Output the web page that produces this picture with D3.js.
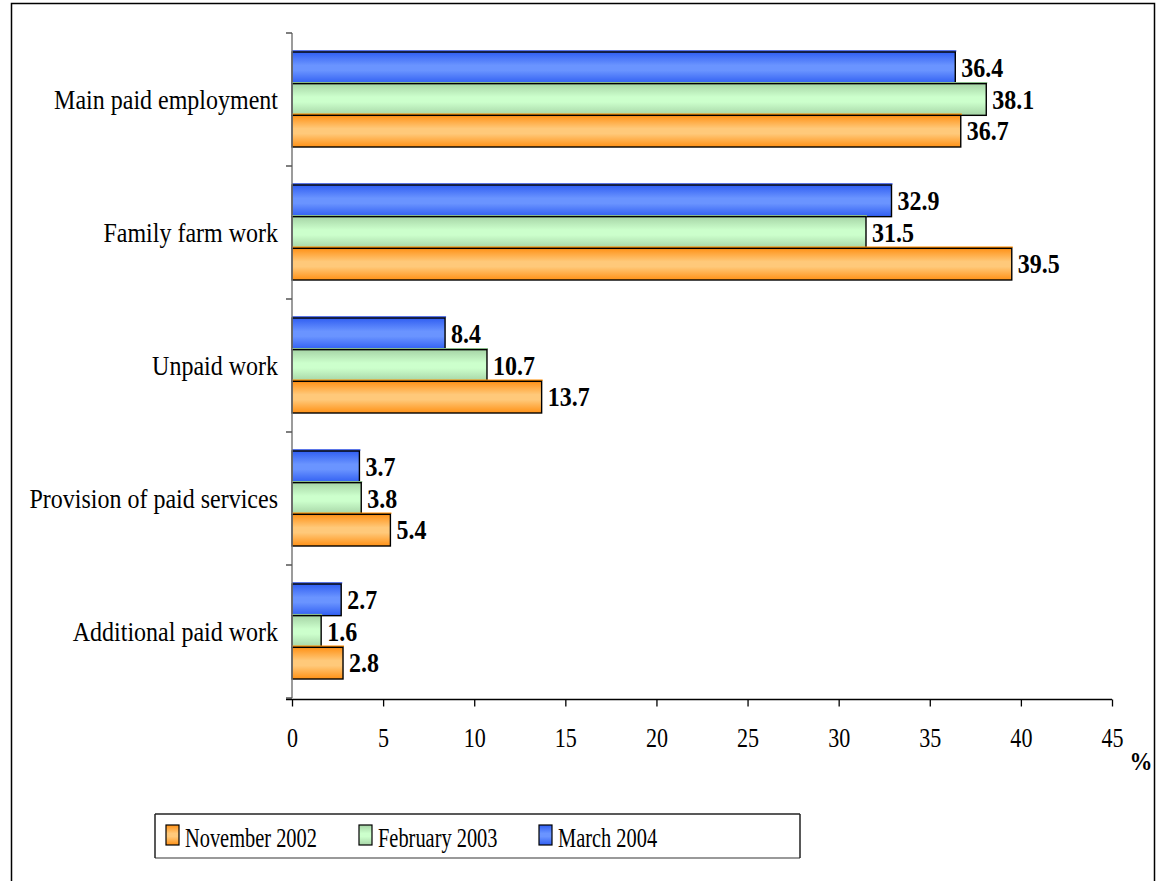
<!DOCTYPE html>
<html>
<head>
<meta charset="utf-8">
<script src="https://cdn.jsdelivr.net/npm/d3@7"></script>
<style>
  html, body { margin: 0; padding: 0; background: #fff; }
  svg { display: block; }
  text { font-family: "Liberation Serif", "Times New Roman", serif; fill: #000; }
</style>
</head>
<body>
<svg id="chart" width="1159" height="881"></svg>
<script>
// Share of working time by type of work, three survey rounds (%)
const categories = [
  "Main paid employment",
  "Family farm work",
  "Unpaid work",
  "Provision of paid services",
  "Additional paid work"
];
const seriesNames = ["November 2002", "February 2003", "March 2004"];
const nov2002 = [36.7, 39.5, 13.7, 5.4, 2.8];
const feb2003 = [38.1, 31.5, 10.7, 3.8, 1.6];
const mar2004 = [36.4, 32.9, 8.4, 3.7, 2.7];
const xTicks = [0, 5, 10, 15, 20, 25, 30, 35, 40, 45];
const unitLabel = "%";

const series = [
  { key: "nov", name: seriesNames[0], values: nov2002 },
  { key: "feb", name: seriesNames[1], values: feb2003 },
  { key: "mar", name: seriesNames[2], values: mar2004 }
];
// within each group the latest round is drawn on top
const barOrder = ["mar", "feb", "nov"];

const fills = {
  nov: { edge: "#ff9116", mid: "#ffc97a", line: "#ff8c00" },
  feb: { edge: "#a6d4a6", mid: "#ccffcc", line: "#8cbf8c" },
  mar: { edge: "#305ef2", mid: "#6a94ff", line: "#2448e0" }
};

const svg = d3.select("#chart");
const defs = svg.append("defs");
Object.entries(fills).forEach(([k, c]) => {
  const g = defs.append("linearGradient")
    .attr("id", "grad-" + k)
    .attr("x1", 0).attr("y1", 0).attr("x2", 0).attr("y2", 1);
  g.append("stop").attr("offset", "0%").attr("stop-color", c.edge);
  g.append("stop").attr("offset", "42%").attr("stop-color", c.mid);
  g.append("stop").attr("offset", "58%").attr("stop-color", c.mid);
  g.append("stop").attr("offset", "100%").attr("stop-color", c.edge);
});

// outer chart frame
svg.append("rect")
  .attr("x", 11.5).attr("y", 3.5)
  .attr("width", 1143).attr("height", 900)
  .attr("fill", "none").attr("stroke", "#000").attr("stroke-width", 1.5);

const plot = { left: 292, right: 1112, top: 33, bottom: 698 };

const x = d3.scaleLinear().domain([0, 45]).range([plot.left, plot.right]);
const y = d3.scaleBand()
  .domain(categories)
  .range([plot.top, plot.bottom])
  .paddingInner(38 / 133)
  .paddingOuter(19 / 133);
const ySub = d3.scaleBand().domain(barOrder).range([0, y.bandwidth()]);

// bars
const groups = svg.append("g").selectAll("g.cat")
  .data(categories)
  .join("g")
  .attr("class", "cat")
  .attr("transform", c => `translate(0,${y(c)})`);

groups.each(function (c, i) {
  const g = d3.select(this);
  barOrder.forEach(k => {
    const s = series.find(d => d.key === k);
    const v = s.values[i];
    const by = ySub(k);
    const bh = ySub.bandwidth();
    // thin top face in the series colour
    g.append("line")
      .attr("x1", x(0)).attr("x2", x(v) + 1)
      .attr("y1", by - 1).attr("y2", by - 1)
      .attr("stroke", fills[k].line).attr("stroke-width", 1.5);
    g.append("rect")
      .attr("x", x(0)).attr("y", by)
      .attr("width", x(v) - x(0)).attr("height", bh)
      .attr("fill", `url(#grad-${k})`)
      .attr("stroke", "#000").attr("stroke-width", 1.4);
    g.append("text")
      .attr("transform", `translate(${x(v) + 6},${by + bh / 2 + 9}) scale(1,1.1)`)
      .attr("font-size", 24)
      .attr("font-weight", "bold")
      .text(v.toFixed(1));
  });
});

// category labels
svg.append("g").selectAll("text")
  .data(categories)
  .join("text")
  .attr("transform", c => `translate(278,${y(c) + y.bandwidth() / 2 + 9}) scale(1,1.1)`)
  .attr("text-anchor", "end")
  .attr("font-size", 24)
  .text(c => c);

// vertical axis with ticks on category boundaries
const step = y.step();
const bounds = categories.map(c => y(c) - y.paddingOuter() * step).concat([plot.bottom]);
const yAxis = svg.append("g");
yAxis.append("line")
  .attr("x1", plot.left).attr("x2", plot.left)
  .attr("y1", plot.top).attr("y2", plot.bottom)
  .attr("stroke", "#7a7a7a").attr("stroke-width", 1.5);
yAxis.selectAll("line.tick")
  .data(bounds)
  .join("line")
  .attr("class", "tick")
  .attr("x1", plot.left - 6).attr("x2", plot.left)
  .attr("y1", d => d).attr("y2", d => d)
  .attr("stroke", "#555").attr("stroke-width", 1.5);

// horizontal value axis
const xAxis = svg.append("g")
  .attr("transform", `translate(0,${plot.bottom + 1.5})`)
  .call(d3.axisBottom(x).tickValues(xTicks).tickSize(7).tickSizeOuter(0));
xAxis.select(".domain")
  .attr("d", `M${plot.left - 6},0H${plot.right}`)
  .attr("stroke", "#000").attr("stroke-width", 1.5);
xAxis.selectAll(".tick line").attr("stroke", "#000").attr("stroke-width", 1.3);
xAxis.selectAll(".tick text")
  .attr("font-family", "Liberation Serif, Times New Roman, serif")
  .attr("font-size", 24)
  .attr("fill", "#000")
  .attr("y", null)
  .attr("dy", null)
  .attr("transform", "translate(0,47) scale(0.92,1.1)");

// unit label
svg.append("text")
  .attr("transform", "translate(1141,770) scale(1,1.1)")
  .attr("text-anchor", "middle")
  .attr("font-size", 23)
  .attr("font-weight", "bold")
  .text(unitLabel);

// legend
const legend = svg.append("g");
legend.append("line")
  .attr("x1", 155).attr("x2", 800).attr("y1", 814).attr("y2", 814)
  .attr("stroke", "#222").attr("stroke-width", 1.5);
legend.append("line")
  .attr("x1", 155).attr("x2", 800).attr("y1", 858).attr("y2", 858)
  .attr("stroke", "#777").attr("stroke-width", 1.5);
legend.append("line")
  .attr("x1", 155).attr("x2", 155).attr("y1", 814).attr("y2", 858)
  .attr("stroke", "#222").attr("stroke-width", 1.5);
legend.append("line")
  .attr("x1", 800).attr("x2", 800).attr("y1", 814).attr("y2", 858)
  .attr("stroke", "#222").attr("stroke-width", 1.5);

const legendX = [166, 359, 539];
const items = legend.selectAll("g.item")
  .data(series)
  .join("g")
  .attr("class", "item")
  .attr("transform", (d, i) => `translate(${legendX[i]},0)`);
items.append("rect")
  .attr("x", 0).attr("y", 825)
  .attr("width", 13).attr("height", 20)
  .attr("fill", d => `url(#grad-${d.key})`)
  .attr("stroke", "#000").attr("stroke-width", 1.2);
items.append("text")
  .attr("transform", "translate(19,847) scale(0.8,1.1)")
  .attr("font-size", 25.5)
  .text(d => d.name);
</script>
</body>
</html>
